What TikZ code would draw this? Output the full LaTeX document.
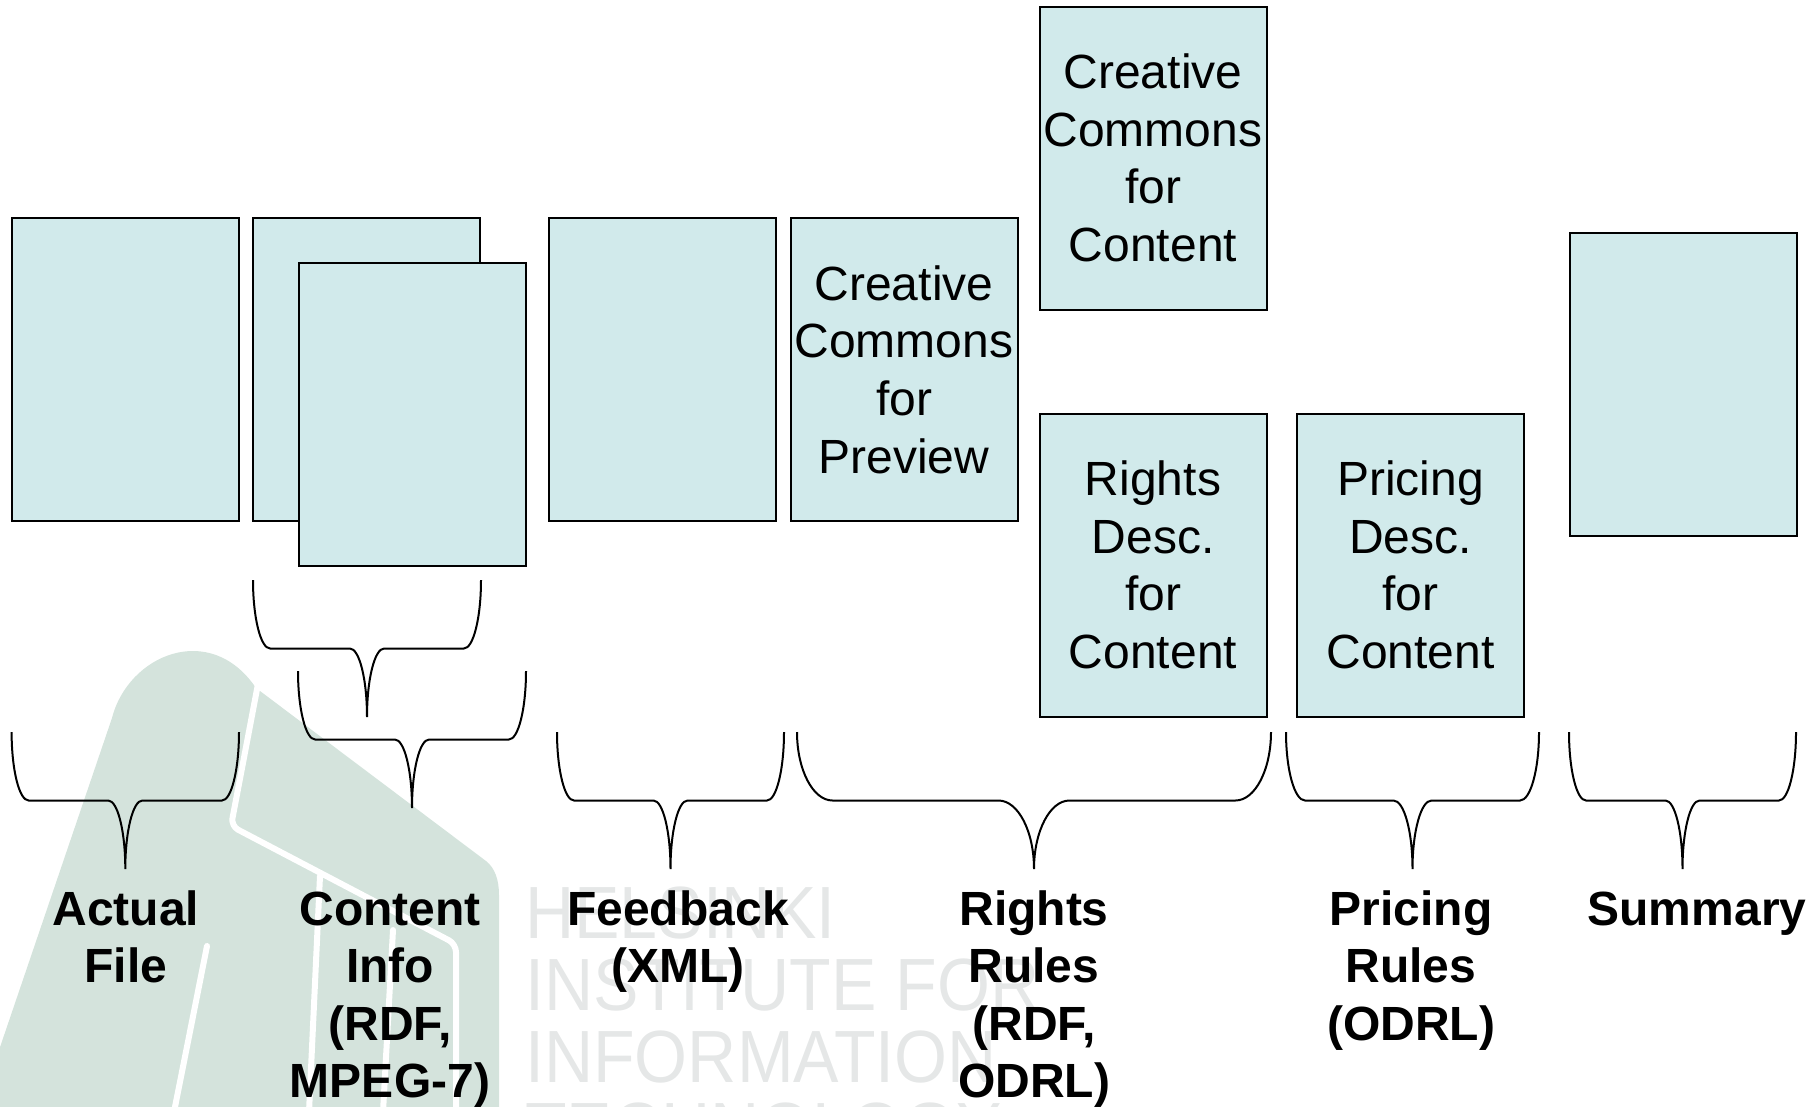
\documentclass[tikz,border=0pt]{standalone}
\usepackage{fontspec}
\setmainfont{Liberation Sans}
\newfontfamily\wmfont{Liberation Sans}[FakeStretch=0.92]
\definecolor{boxfill}{RGB}{209,234,235}
\definecolor{wmgreen}{RGB}{212,227,220}
\definecolor{wmgray}{RGB}{229,231,231}
\newcommand{\drawbrace}[3]{%
  \pgfmathsetmacro{\brL}{#1}%
  \pgfmathsetmacro{\brR}{#2}%
  \pgfmathsetmacro{\brT}{#3}%
  \pgfmathsetmacro{\brM}{#3+68.5}%
  \pgfmathsetmacro{\brB}{#3+137}%
  \pgfmathsetmacro{\brC}{(#1+#2)/2}%
  \pgfmathsetmacro{\brW}{0.075*(#2-#1)}%
  \draw[line width=2pt] (\brL,\brT) .. controls (\brL,\brT+37.8) and (\brL+0.448*\brW,\brM) .. (\brL+\brW,\brM)
    -- (\brC-\brW,\brM) .. controls (\brC-0.448*\brW,\brM) and (\brC,\brB-37.8) .. (\brC,\brB)
    .. controls (\brC,\brB-37.8) and (\brC+0.448*\brW,\brM) .. (\brC+\brW,\brM)
    -- (\brR-\brW,\brM) .. controls (\brR-0.448*\brW,\brM) and (\brR,\brT+37.8) .. (\brR,\brT);%
}
\begin{document}
\begin{tikzpicture}[x=1pt,y=-1pt,
  docbox/.style={draw,line width=2pt,fill=boxfill,minimum width=227pt,minimum height=303pt,
    inner sep=0pt,align=center,font=\fontsize{48}{57.6}\selectfont},
  lbl/.style={anchor=base,align=center,inner sep=0pt,font=\fontsize{48}{57.6}\selectfont\bfseries},
  stripe/.style={white,line width=6pt,line cap=round,line join=round}]
\useasboundingbox (0,0) rectangle (1820,1106);

\fill[wmgreen] (-20,1106) -- (112,718) .. controls (128,655) and (210,620) .. (256,688)
  -- (486,861) .. controls (495,868) and (499,880) .. (499,895) -- (499,1110) -- (-20,1110) -- cycle;
\draw[stripe,rounded corners=8pt] (258,684) -- (231,826) -- (456,944) -- (456,1112);
\draw[stripe] (320,876) -- (309,1112);
\draw[stripe] (393,930) -- (383,1112);
\draw[stripe] (207,946) -- (174,1112);
\node[anchor=base west,align=left,inner sep=0pt,text=wmgray,font=\fontsize{74}{72}\wmfont] (wmtext) at (525,1154)
  {HELSINKI\\INSTITUTE FOR\\INFORMATION\\TECHNOLOGY};

\node[docbox] (file) at (125.3,369.5) {};
\node[docbox] (infoback) at (366.8,369.5) {};
\node[docbox] (infofront) at (412,414.8) {};
\node[docbox] (feedback) at (662.8,369.5) {};
\node[docbox] (ccpreview) at (904,369.5) {Creative\\Commons\\for\\Preview};
\node[docbox] (cccontent) at (1153,158) {Creative\\Commons\\for\\Content};
\node[docbox] (rightsdesc) at (1153,565) {Rights\\Desc.\\for\\Content};
\node[docbox] (pricingdesc) at (1410.5,565) {Pricing\\Desc.\\for\\Content};
\node[docbox] (summary) at (1683,384.5) {};

\drawbrace{11.6}{239}{732}
\drawbrace{253}{481}{580}
\drawbrace{298}{526}{671}
\drawbrace{557}{784}{732}
\drawbrace{797}{1271}{732}
\drawbrace{1286}{1539}{732}
\drawbrace{1569}{1796}{732}

% base = baseline of the last line
\node[lbl] (filelbl) at (126,982.6) {Actual\\File};
\node[lbl] (infolbl) at (390,1097.8) {Content\\Info\\(RDF,\\MPEG-7)};
\node[lbl] (feedbacklbl) at (678,982.6) {Feedback\\(XML)};
\node[lbl] (rightslbl) at (1034,1097.8) {Rights\\Rules\\(RDF,\\ODRL)};
\node[lbl] (pricinglbl) at (1411,1040.2) {Pricing\\Rules\\(ODRL)};
\node[lbl] (summarylbl) at (1697,925) {Summary};
\end{tikzpicture}
\end{document}
